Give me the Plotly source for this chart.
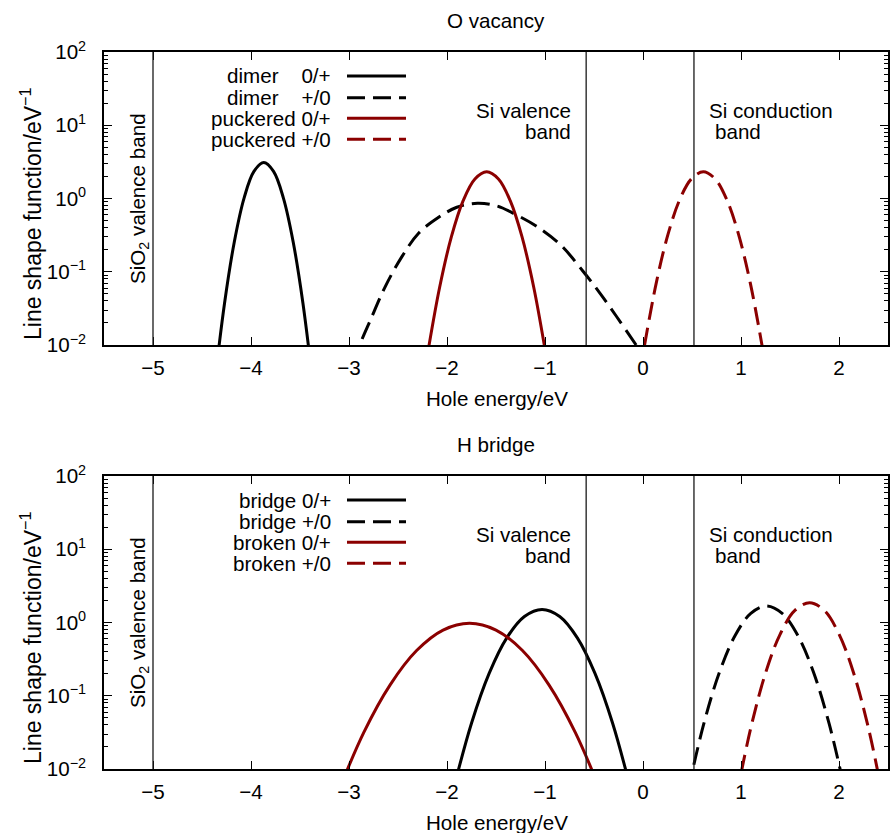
import plotly.graph_objects as go

# ---------------- data ----------------
# Top panel: O vacancy
dimer_01_x = [-4.37, -4.27, -4.17, -4.07, -3.97, -3.87, -3.77, -3.67, -3.57, -3.47, -3.37]
dimer_01_y = [0.0031, 0.0372, 0.257, 1.02, 2.34, 3.09, 2.34, 1.02, 0.257, 0.0372, 0.0031]

dimer_10_x = [-2.95, -2.89, -2.78, -2.63, -2.46, -2.29, -2.10, -1.90, -1.69, -1.49,
              -1.29, -1.08, -0.84, -0.61, -0.44, -0.27, -0.07, 0.0]
dimer_10_y = [0.0056, 0.0100, 0.0221, 0.0628, 0.161, 0.336, 0.537, 0.759, 0.861, 0.791,
              0.596, 0.413, 0.232, 0.1007, 0.0511, 0.0245, 0.0100, 0.0073]

puckered_01_x = [-2.195, -2.075, -1.955, -1.835, -1.715, -1.595, -1.475, -1.355, -1.235, -1.115, -0.995]
puckered_01_y = [0.0080, 0.0615, 0.301, 0.935, 1.85, 2.32, 1.85, 0.935, 0.301, 0.0615, 0.0080]

puckered_10_x = [0.015, 0.135, 0.255, 0.375, 0.495, 0.615, 0.735, 0.855, 0.975, 1.095, 1.215]
puckered_10_y = [0.0098, 0.070, 0.324, 0.966, 1.86, 2.32, 1.86, 0.966, 0.324, 0.070, 0.0098]

# Bottom panel: H bridge
bridge_01_x = [-1.93, -1.75, -1.57, -1.39, -1.21, -1.03, -0.85, -0.67, -0.49, -0.31, -0.13]
bridge_01_y = [0.0056, 0.0422, 0.202, 0.618, 1.21, 1.51, 1.21, 0.618, 0.202, 0.0422, 0.0056]

bridge_10_x = [0.46, 0.62, 0.78, 0.94, 1.10, 1.26, 1.42, 1.58, 1.74, 1.90, 2.06]
bridge_10_y = [0.0051, 0.0412, 0.209, 0.665, 1.33, 1.68, 1.33, 0.665, 0.209, 0.0412, 0.0051]

broken_01_x = [-3.12, -2.85, -2.58, -2.31, -2.04, -1.77, -1.50, -1.23, -0.96, -0.69, -0.42]
broken_01_y = [0.0045, 0.0314, 0.141, 0.414, 0.789, 0.977, 0.789, 0.414, 0.141, 0.0314, 0.0045]

broken_10_x = [0.95, 1.10, 1.25, 1.40, 1.55, 1.70, 1.85, 2.00, 2.15, 2.30, 2.45]
broken_10_y = [0.0040, 0.0363, 0.203, 0.695, 1.46, 1.86, 1.46, 0.695, 0.203, 0.0363, 0.0040]

# band edges (vertical lines)
band_edges_x = [-5.0, -0.58, 0.52]

# axis ticks
x_tickvals = [-5, -4, -3, -2, -1, 0, 1, 2]
y_tickvals = [0.01, 0.1, 1, 10, 100]
y_ticktext = ["10<sup>−2</sup>", "10<sup>−1</sup>", "10<sup>0</sup>", "10<sup>1</sup>", "10<sup>2</sup>"]

panel_titles = ["O vacancy", "H bridge"]
top_labels = ["dimer\u00a0\u00a0\u00a0\u00a00/+", "dimer\u00a0\u00a0\u00a0\u00a0+/0", "puckered 0/+", "puckered +/0"]
bottom_labels = ["bridge 0/+", "bridge +/0", "broken 0/+", "broken +/0"]

# ---------------- styling / layout ----------------
BLACK = "#000000"
RED = "#8b0000"
FONT = "Liberation Sans, Arial, Helvetica, sans-serif"
FS = 20.6
DASH = "18px,8px"

W_FIG, H_FIG = 892, 833
L, R, T, B = 104, 4, 52, 64
PW, PH = W_FIG - L - R, H_FIG - T - B


def px(x):
    return (x - L) / PW


def py(y):
    return (T + PH - y) / PH


top_dom = [py(345), 1.0]
bot_dom = [0.0, py(476)]

fig = go.Figure()

series = [
    (dimer_01_x, dimer_01_y, BLACK, "solid", "x", "y"),
    (dimer_10_x, dimer_10_y, BLACK, DASH, "x", "y"),
    (puckered_01_x, puckered_01_y, RED, "solid", "x", "y"),
    (puckered_10_x, puckered_10_y, RED, DASH, "x", "y"),
    (bridge_01_x, bridge_01_y, BLACK, "solid", "x2", "y2"),
    (bridge_10_x, bridge_10_y, BLACK, DASH, "x2", "y2"),
    (broken_01_x, broken_01_y, RED, "solid", "x2", "y2"),
    (broken_10_x, broken_10_y, RED, DASH, "x2", "y2"),
]
for xs, ys, col, dash, xa, ya in series:
    fig.add_trace(go.Scatter(x=xs, y=ys, mode="lines", xaxis=xa, yaxis=ya,
                             line=dict(color=col, width=3, dash=dash, shape="spline", smoothing=1.0),
                             showlegend=False, hoverinfo="skip"))

minor_vals = [m * 10 ** e for e in (-2, -1, 0, 1) for m in range(2, 10)]

xax = dict(range=[-5.5, 2.5], tickvals=x_tickvals, ticks="inside", ticklen=8, tickwidth=1,
           tickcolor=BLACK, showline=True, linecolor=BLACK, linewidth=1.5, mirror="allticks",
           showgrid=False, zeroline=False, tickfont=dict(family=FONT, size=FS, color=BLACK),
           ticklabelstandoff=4, automargin=False)
yax = dict(type="log", range=[-2, 2], tickvals=y_tickvals, ticktext=y_ticktext, ticks="inside",
           ticklen=8, tickwidth=1, tickcolor=BLACK, showline=True, linecolor=BLACK, linewidth=1.5,
           mirror="allticks", showgrid=False, zeroline=False,
           tickfont=dict(family=FONT, size=FS, color=BLACK), ticklabelstandoff=12, automargin=False,
           minor=dict(tickmode="array", tickvals=minor_vals, ticks="inside", ticklen=4,
                      tickwidth=1, tickcolor=BLACK, showgrid=False))

shapes = []
for xa, ya in (("x", "y"), ("x2", "y2")):
    for xv in band_edges_x:
        shapes.append(dict(type="line", xref=xa, yref=ya + " domain", x0=xv, x1=xv, y0=0, y1=1,
                           line=dict(color="#1a1a1a", width=1.3), layer="above"))

annotations = []


def txt(text, x, y, xanchor="center", yanchor="middle", angle=0, size=FS):
    annotations.append(dict(text=text, x=x, y=y, xref="paper", yref="paper", showarrow=False,
                            xanchor=xanchor, yanchor=yanchor, textangle=angle,
                            font=dict(family=FONT, size=size, color=BLACK)))


for off, title, labels in ((0.0, panel_titles[0], top_labels), (424.0, panel_titles[1], bottom_labels)):
    # panel title and axis titles
    txt(title, px(496), py(20 + off))
    txt("Hole energy/eV", px(497), py(398 + off))
    txt("Line shape function/eV<sup>−1</sup>", px(31), py(214 + off), angle=-90, size=23)
    txt("SiO<sub>2</sub> valence band", px(139), py(199 + off), angle=-90)
    # band labels
    txt("Si valence", px(573), py(110 + off), xanchor="right")
    txt("band", px(573), py(131.5 + off), xanchor="right")
    txt("Si conduction", px(707), py(110 + off), xanchor="left")
    txt("band", px(713), py(131.5 + off), xanchor="left")
    # legend
    rows = [76, 97.7, 118.3, 139.3]
    styles = [(BLACK, "solid"), (BLACK, DASH), (RED, "solid"), (RED, DASH)]
    for r, lab, (col, dash) in zip(rows, labels, styles):
        txt(lab, px(333), py(r + off), xanchor="right")
        shapes.append(dict(type="line", xref="paper", yref="paper", x0=px(347), x1=px(406),
                           y0=py(r + off), y1=py(r + off), line=dict(color=col, width=3, dash=dash)))

fig.update_layout(
    width=W_FIG, height=H_FIG,
    margin=dict(l=L, r=R, t=T, b=B),
    paper_bgcolor="white", plot_bgcolor="white",
    xaxis=dict(**xax, anchor="y", domain=[0, 1]),
    yaxis=dict(**yax, anchor="x", domain=top_dom),
    xaxis2=dict(**xax, anchor="y2", domain=[0, 1]),
    yaxis2=dict(**yax, anchor="x2", domain=bot_dom),
    shapes=shapes,
    annotations=annotations,
    font=dict(family=FONT, size=FS, color=BLACK),
    showlegend=False,
)

fig.write_html("out.html", config={"displayModeBar": False},
               post_script="document.body.style.margin='0px';document.body.style.overflow='hidden';")
